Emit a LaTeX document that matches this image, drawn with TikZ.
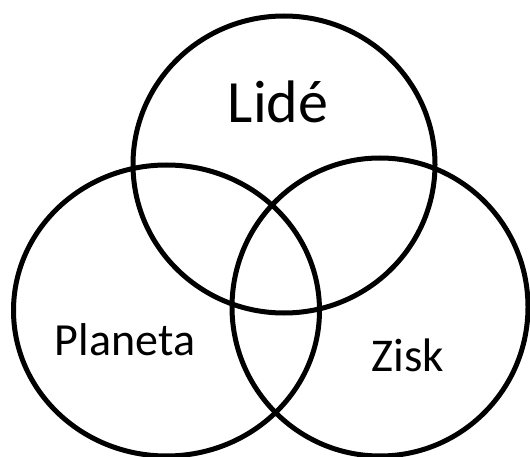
\documentclass[tikz,border=0pt]{standalone}
\usepackage{fontspec}
\setmainfont{Carlito}
\begin{document}
\begin{tikzpicture}[x=1pt,y=-1pt,
  ring/.style={draw=black,line width=5pt},
  lbl/.style={anchor=base,inner sep=0pt,text=black}]
\useasboundingbox[fill=white] (0,0) rectangle (530,457);
% the three overlapping circles
\draw[ring] (284,164.5) ellipse [x radius=151,y radius=148.5];
\draw[ring] (166.5,310.5) ellipse [x radius=153,y radius=145.5];
\draw[ring] (380,307) ellipse [x radius=148,y radius=149];
% labels
\node[lbl,font=\fontsize{60}{64}\selectfont] (lide) at (278,122.7) {Lidé};
\node[lbl,font=\fontsize{46}{50}\selectfont] (planeta) at (125,355) {Planeta};
\node[lbl,font=\fontsize{47}{50}\selectfont] (zisk) at (408,371) {Zisk};
\end{tikzpicture}
\end{document}
